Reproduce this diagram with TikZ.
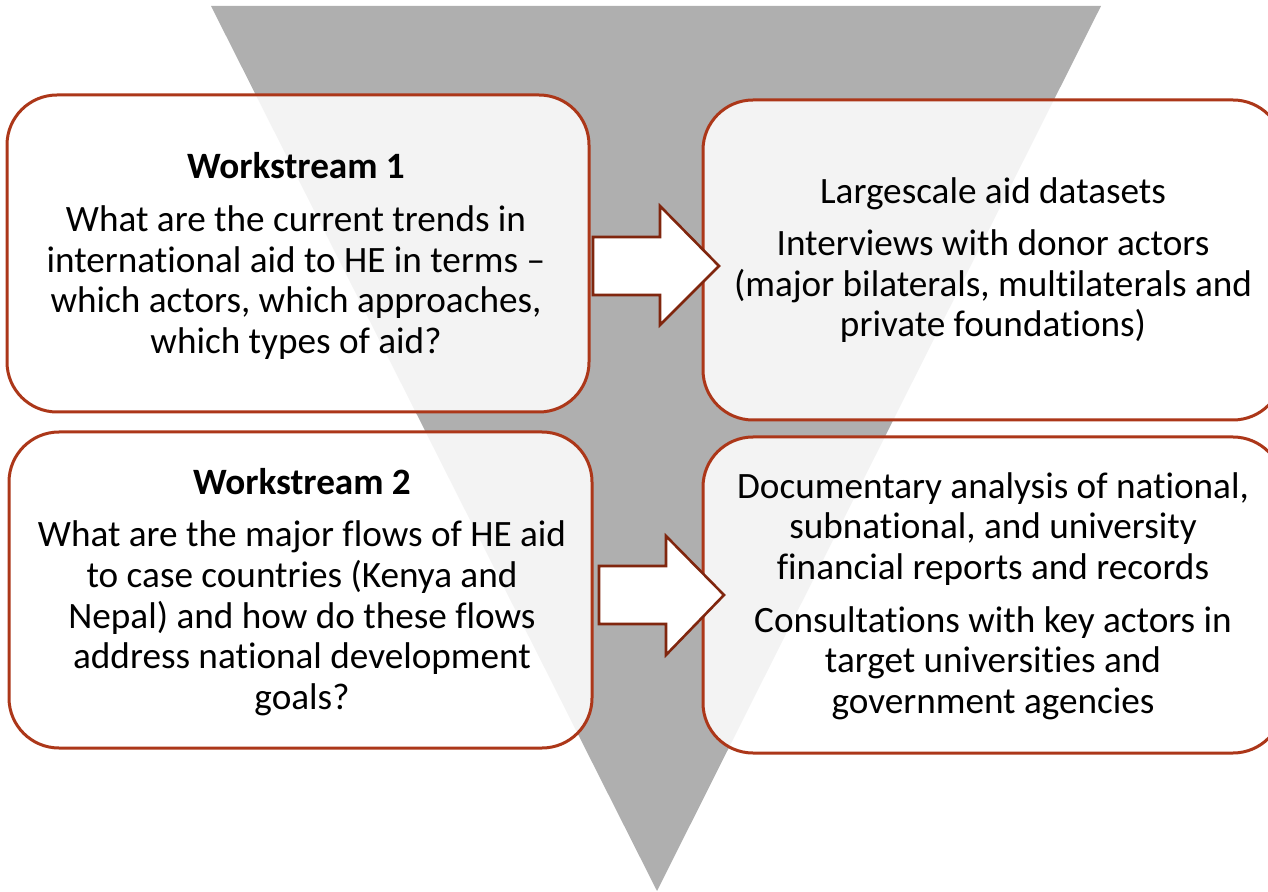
\documentclass[tikz,border=0pt]{standalone}
\usepackage{fontspec}
\setmainfont[Ligatures={NoCommon}]{Carlito}
\definecolor{funnel}{RGB}{175,175,175}
\definecolor{rim}{RGB}{172,55,25}
\definecolor{arrowrim}{RGB}{128,38,14}
\begin{document}
\begin{tikzpicture}[x=0.5pt,y=-0.5pt,
  panel/.style={draw=rim, line width=1.5pt, fill=white, fill opacity=0.86, rounded corners=25pt},
  paneltext/.style={align=center, text=black, inner sep=0pt,
    font=\fontsize{18.6}{20.3}\selectfont},
  blockarrow/.style={draw=arrowrim, line width=1.3pt, fill=white, line join=miter}]
\useasboundingbox (0,0) rectangle (1268,892);
\clip (0,0) rectangle (1268,892);
% funnel in the background
\fill[funnel] (211,6) -- (1101,6) -- (657,891) -- cycle;
% four panels
\draw[panel] (7,95) rectangle (589,412);
\draw[panel] (703,100) rectangle (1283,420);
\draw[panel] (9,432) rectangle (592,748);
\draw[panel] (703,437) rectangle (1283,753);
% panel texts
\node[paneltext] (ws1) at (296,256) {\textbf{Workstream 1}\\[6pt]What are the current trends in\\international aid to HE in terms --\\which actors, which approaches,\\which types of aid?};
\node[paneltext] (m1) at (993,260) {Largescale aid datasets\\[6pt]Interviews with donor actors\\(major bilaterals, multilaterals and\\private foundations)};
\node[paneltext] (ws2) at (302,592) {\textbf{Workstream 2}\\[6pt]What are the major flows of HE aid\\to case countries (Kenya and\\Nepal) and how do these flows\\address national development\\goals?};
\node[paneltext] (m2) at (993,596) {Documentary analysis of national,\\subnational, and university\\financial reports and records\\[6pt]Consultations with key actors in\\target universities and\\government agencies};
% block arrows between the panels
\draw[blockarrow] (593,237) -- (660,237) -- (660,206) -- (719,266) -- (660,325) -- (660,295) -- (593,295) -- cycle;
\draw[blockarrow] (599,566) -- (666,566) -- (666,536) -- (724,595) -- (666,655) -- (666,624) -- (599,624) -- cycle;
\end{tikzpicture}
\end{document}
